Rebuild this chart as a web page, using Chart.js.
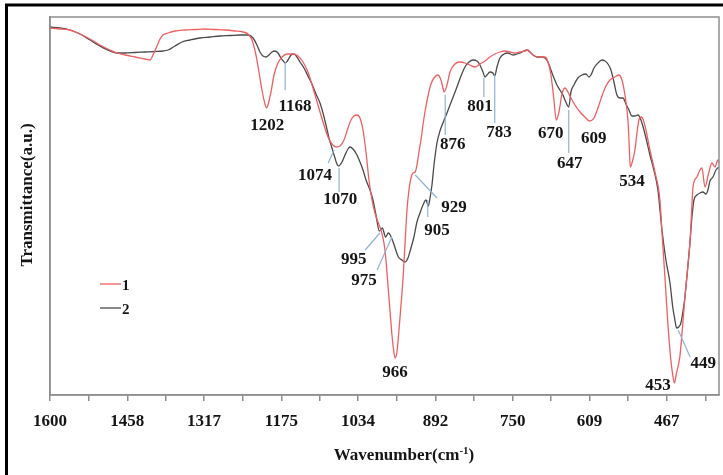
<!DOCTYPE html>
<html>
<head>
<meta charset="utf-8">
<script src="https://cdn.jsdelivr.net/npm/chart.js@4/dist/chart.umd.min.js"></script>
<style>
  html, body { margin: 0; padding: 0; background: #ffffff; }
  #wrap { width: 723px; height: 475px; }
</style>
</head>
<body>
<div id="wrap"><canvas id="c" width="723" height="475"></canvas></div>
<script>
// FTIR spectra, transmittance in arbitrary units versus wavenumber (cm-1)
const seriesNames = ['1', '2'];

// Sample 1
const wave1 = [1600, 1581.6, 1563.3, 1544.9, 1526.5, 1508.2, 1489.8, 1476.9, 1462.2, 1443.9, 1425.5, 1416.3,
  1410.8, 1403.5, 1397.9, 1392.4, 1383.2, 1370.4, 1352, 1333.6, 1315.3, 1296.9, 1278.5, 1260.2, 1245.5, 1236.3,
  1228.9, 1221.6, 1216.1, 1210.6, 1205.1, 1202, 1199.6, 1194, 1188.5, 1181.2, 1173.8, 1164.7, 1153.6, 1144.4,
  1135.3, 1126.1, 1116.9, 1107.7, 1098.5, 1089.3, 1082, 1074, 1067.3, 1059.9, 1052.6, 1047.1, 1041.6, 1036.1,
  1030.6, 1025, 1019.5, 1014, 1008.5, 1003, 997.5, 992, 986.5, 982.8, 979.2, 975.5, 971.8, 968.5, 966, 962.6,
  958.9, 955.2, 951.6, 947.9, 944.2, 940.6, 936.9, 933.2, 929, 925.9, 922.2, 918.5, 914.8, 911.2, 905.6, 900.1,
  894.6, 887.3, 881.8, 878.1, 876, 870.7, 865.2, 856.1, 846.9, 837.7, 828.5, 819.3, 810.1, 800.9, 791.8, 782.6,
  773.4, 764.2, 755, 745.8, 736.7, 727.5, 722, 716.5, 709.1, 699.9, 690.7, 685.2, 679.7, 674.2, 670, 665, 659.5,
  654, 648.5, 643, 635.6, 626.4, 617.3, 609, 600.7, 593.4, 586, 578.7, 571.3, 562.2, 554.8, 549.3, 543.8, 538.3,
  536, 534, 530.9, 525.4, 521.7, 518.1, 514.4, 510.7, 505.2, 497.9, 488.7, 479.5, 476, 470, 465, 460, 456, 453,
  449, 443, 438, 433.6, 428, 424.4, 420.7, 418.8, 411.5, 406, 402.3, 396.8, 390, 384, 378.4, 373, 371];
const trans1 = [367, 366, 365, 361, 356, 350, 345, 342, 340, 338, 336, 335,
  340, 349, 356, 360, 362, 364, 365, 365.5, 366, 365.5, 365, 364, 363, 361,
  355, 340, 323, 305, 291, 287, 290, 303, 320, 332, 338, 341, 341, 339,
  333, 323, 307, 290, 273, 258, 251, 248, 249, 255, 267, 275, 279, 280,
  277, 265, 243, 215, 195, 182, 173, 165, 152, 135, 110, 85, 60, 44, 37, 43,
  65, 90, 115, 150, 185, 205, 217, 222, 223, 230, 243, 255, 270, 283, 299, 311,
  317, 320, 315, 307, 303, 310, 323, 331, 333, 332, 330, 328, 331, 334, 338, 341,
  343, 344, 343, 342, 343, 344, 345, 342, 339, 338, 338, 333, 320, 295, 275, 283, 301,
  307, 303, 297, 290, 283, 278, 274, 277, 287, 299, 309, 315, 318, 320, 315, 300, 275,
  250, 228, 232, 245, 262, 275, 278, 276, 265, 245, 223, 195, 165, 115, 72, 38, 20, 12,
  22, 38, 68, 98, 130, 152, 190, 208, 218, 225, 227, 208, 222, 232, 228, 235, 232];

// Sample 2
const wave2 = [1600, 1581.6, 1563.3, 1544.9, 1526.5, 1508.2, 1489.8, 1476.9, 1462.2, 1443.9, 1425.5, 1407.1,
  1392.4, 1383.2, 1370.4, 1357.5, 1342.8, 1324.5, 1306.1, 1287.7, 1269.4, 1251, 1236.3, 1227.1, 1219.8, 1214.3,
  1208.7, 1203.2, 1197.7, 1192.2, 1186.7, 1181.2, 1175.7, 1171.5, 1168, 1162.8, 1157.3, 1151.8, 1146.3, 1140.8,
  1133.4, 1126.1, 1118.7, 1111.4, 1104, 1098.5, 1093, 1087.5, 1082, 1076.5, 1073, 1070, 1063.6, 1058.1, 1052.6,
  1048.9, 1043.4, 1036.1, 1030.6, 1025, 1019.5, 1012.2, 1006.7, 1001.2, 995, 989.5, 983.5, 978.5, 975, 969,
  960, 953.5, 947.9, 942.4, 936.9, 931.4, 925.9, 920.3, 914.8, 909.3, 905, 901.9, 898.3, 894.6, 889.1, 883.6,
  878.1, 870.7, 861.6, 852.4, 845, 837.7, 830.3, 823, 815.6, 810.1, 804.6, 801, 797.3, 791.8, 786.3, 783,
  778.9, 773.4, 766, 758.7, 749.5, 742.2, 736.7, 729.3, 723.8, 718.3, 712.8, 705.4, 698.1, 690.7, 685.2, 679.7,
  674.2, 668.7, 663.2, 657.7, 654, 647, 643, 637.5, 630.2, 622.8, 615.5, 609.9, 606.2, 600.7, 593.4, 586,
  580.5, 575, 569.5, 564, 558.5, 553, 547.4, 541.9, 536.4, 530.9, 525.4, 519.9, 514.4, 508.9, 503.4, 497.9,
  490.6, 483.2, 475.8, 468.5, 461, 456, 452, 449, 445, 441, 436, 433.6, 428, 424.4, 420.7, 417, 411.5, 406,
  400.5, 395, 391.3, 387.6, 382.1, 376.6, 371];
const trans2 = [368, 367, 365, 361, 355, 349, 344, 342, 342, 342.5, 343, 343.5,
  344, 345, 349, 353, 355, 357, 358, 359, 359.5, 360, 360, 357, 350, 343,
  339, 338, 340, 343, 344, 342, 337, 334, 332, 335, 340, 341, 338, 333,
  327, 319, 311, 301, 292, 282, 270, 257, 247, 237, 231, 229, 233, 240, 246,
  248, 246, 240, 233, 225, 215, 205, 195, 180, 164, 167, 158, 162, 160, 152,
  138, 135, 133, 137, 147, 158, 173, 182, 190, 195, 189, 197, 210, 230, 252, 264,
  272, 282, 295, 308, 319, 328, 333, 335, 334, 330, 323, 318, 320, 323, 322, 319,
  328, 337, 341, 342, 340, 341, 342, 344, 345, 343, 340, 338, 338, 337, 333, 325,
  317, 310, 305, 300, 295, 288, 303, 310, 317, 320, 321, 318, 320, 327, 332, 335,
  334, 331, 325, 313, 300, 297, 297, 291, 285, 279, 279, 280, 275, 265, 253, 240,
  225, 205, 165, 135, 112, 88, 75, 67, 68, 72, 88, 98, 130, 152, 178, 195, 200, 202,
  203, 201, 205, 214, 218, 225, 228];

// Axis labels along the wavenumber axis
const tickLabels = [1600, 1458, 1317, 1175, 1034, 892, 750, 609, 467];

// Peak annotations: text, leader line [w1, t1, w2, t2] (or null), label anchor [w, t]
const peakText   = ['1202', '1168', '1074', '1070', '995', '975', '966', '929', '905', '876', '801', '783', '670', '647', '609', '534', '453', '449'];
const peakLines  = [null, [1168, 333, 1168, 305], [1078, 245, 1089, 232], [1069, 227, 1069, 203],
  [994, 162, 1021, 145], [972, 158, 999, 125], null, [929, 220, 889, 197], [906, 195, 906, 178],
  [874, 300, 874, 260], [803, 317, 803, 298], [783, 320, 783, 272], null, [647, 285, 647, 242],
  null, null, null, [446, 65, 424, 38]];
const peakLabelAt = [[1201, 269], [1150, 288], [1113, 219], [1067, 195], [1042, 135], [1023, 114],
  [966, 22], [858, 187], [889, 164], [860, 250], [810, 288], [775, 262], [680, 261], [645, 231],
  [601, 256], [531, 213], [483, 9], [400, 31]];

// Wavenumber tick positions: labelled ticks plus one unlabelled tick halfway between
const tickStep = (tickLabels[0] - tickLabels[tickLabels.length - 1]) / (tickLabels.length - 1);
const tickValues = [];
tickLabels.forEach(v => { tickValues.push(v); tickValues.push(v - tickStep / 2); });

const SERIF = '"Liberation Serif", "DejaVu Serif", "Times New Roman", serif';
const RED = '#ef5f62';
const DARK = '#4a4a4a';
const FRAME = '#8e8e8e';
const LEADER = '#8fb1d6';

const toPoints = (w, t) => w.map((x, i) => ({ x: x, y: t[i] }));

const decor = {
  id: 'decor',
  beforeDraw(chart) {
    const ctx = chart.ctx;
    ctx.save();
    ctx.fillStyle = '#ffffff';
    ctx.fillRect(0, 0, chart.width, chart.height);
    ctx.restore();
  },
  afterDatasetsDraw(chart) {
    const ctx = chart.ctx;
    const xs = chart.scales.x, ys = chart.scales.y;
    ctx.save();
    // leader lines
    ctx.strokeStyle = LEADER;
    ctx.lineWidth = 1.2;
    peakLines.forEach(l => {
      if (!l) return;
      ctx.beginPath();
      ctx.moveTo(xs.getPixelForValue(l[0]), ys.getPixelForValue(l[1]));
      ctx.lineTo(xs.getPixelForValue(l[2]), ys.getPixelForValue(l[3]));
      ctx.stroke();
    });
    // peak labels
    ctx.fillStyle = '#151515';
    ctx.font = 'bold 17px ' + SERIF;
    ctx.textAlign = 'center';
    ctx.textBaseline = 'middle';
    peakText.forEach((t, i) => {
      const p = peakLabelAt[i];
      ctx.fillText(t, xs.getPixelForValue(p[0]), ys.getPixelForValue(p[1]));
    });
    ctx.restore();
  },
  afterDraw(chart) {
    const ctx = chart.ctx;
    const a = chart.chartArea;
    ctx.save();
    // plot frame
    ctx.strokeStyle = FRAME;
    ctx.lineWidth = 1.5;
    ctx.strokeRect(a.left, a.top, a.right - a.left, a.bottom - a.top);
    // outer border
    ctx.strokeStyle = '#000000';
    ctx.lineWidth = 3;
    ctx.beginPath();
    ctx.moveTo(6.5, chart.height);
    ctx.lineTo(6.5, 5);
    ctx.lineTo(chart.width, 5);
    ctx.stroke();

    // axis titles
    ctx.fillStyle = '#151515';
    ctx.textBaseline = 'middle';
    ctx.font = 'bold 17px ' + SERIF;
    ctx.save();
    ctx.translate(28, 195);
    ctx.rotate(-Math.PI / 2);
    ctx.textAlign = 'center';
    ctx.fillText('Transmittance(a.u.)', 0, 0);
    ctx.restore();

    const main = 'Wavenumber(cm';
    const sup = '-1';
    const close = ')';
    ctx.font = 'bold 17px ' + SERIF;
    const w1 = ctx.measureText(main).width;
    const w3 = ctx.measureText(close).width;
    ctx.font = 'bold 11px ' + SERIF;
    const w2 = ctx.measureText(sup).width;
    const total = w1 + w2 + w3;
    let x = 404 - total / 2;
    const y = 456;
    ctx.textAlign = 'left';
    ctx.font = 'bold 17px ' + SERIF;
    ctx.fillText(main, x, y);
    x += w1;
    ctx.font = 'bold 11px ' + SERIF;
    ctx.fillText(sup, x, y - 5);
    x += w2;
    ctx.font = 'bold 17px ' + SERIF;
    ctx.fillText(close, x, y);

    // legend
    ctx.font = 'bold 15px ' + SERIF;
    ctx.lineWidth = 1.3;
    chart.data.datasets.forEach((ds, i) => {
      const ly = 284 + i * 24;
      ctx.strokeStyle = ds.borderColor;
      ctx.beginPath();
      ctx.moveTo(100, ly);
      ctx.lineTo(121, ly);
      ctx.stroke();
      ctx.fillStyle = '#151515';
      ctx.fillText(ds.label, 122, ly + 2);
    });
    ctx.restore();
  }
};

new Chart(document.getElementById('c'), {
  type: 'line',
  data: {
    datasets: [
      { label: seriesNames[0], data: toPoints(wave1, trans1), borderColor: RED, borderWidth: 1.3,
        pointRadius: 0, cubicInterpolationMode: 'monotone', fill: false },
      { label: seriesNames[1], data: toPoints(wave2, trans2), borderColor: DARK, borderWidth: 1.3,
        pointRadius: 0, cubicInterpolationMode: 'monotone', fill: false }
    ]
  },
  options: {
    responsive: false,
    animation: false,
    events: [],
    layout: { padding: { left: 8, top: 17, right: 4, bottom: 0 } },
    plugins: { legend: { display: false }, tooltip: { enabled: false } },
    scales: {
      x: {
        type: 'linear',
        reverse: true,
        min: 371,
        max: 1600,
        afterBuildTicks: s => { s.ticks = tickValues.filter(v => v >= 371).map(v => ({ value: v })); },
        afterFit: s => { s.height = 80; },
        ticks: {
          autoSkip: false,
          maxRotation: 0,
          padding: 10,
          color: '#151515',
          font: { family: SERIF, size: 17, weight: 'bold' },
          callback: v => tickLabels.includes(v) ? String(v) : ''
        },
        grid: { drawOnChartArea: false, drawTicks: true, tickLength: 6, color: FRAME, lineWidth: 1.5 },
        border: { display: true, color: FRAME, width: 1.5 }
      },
      y: {
        min: 0,
        max: 378,
        afterFit: s => { s.width = 42; },
        ticks: { display: false },
        grid: { display: false },
        border: { display: true, color: FRAME, width: 1.5 }
      }
    }
  },
  plugins: [decor]
});
</script>
</body>
</html>
